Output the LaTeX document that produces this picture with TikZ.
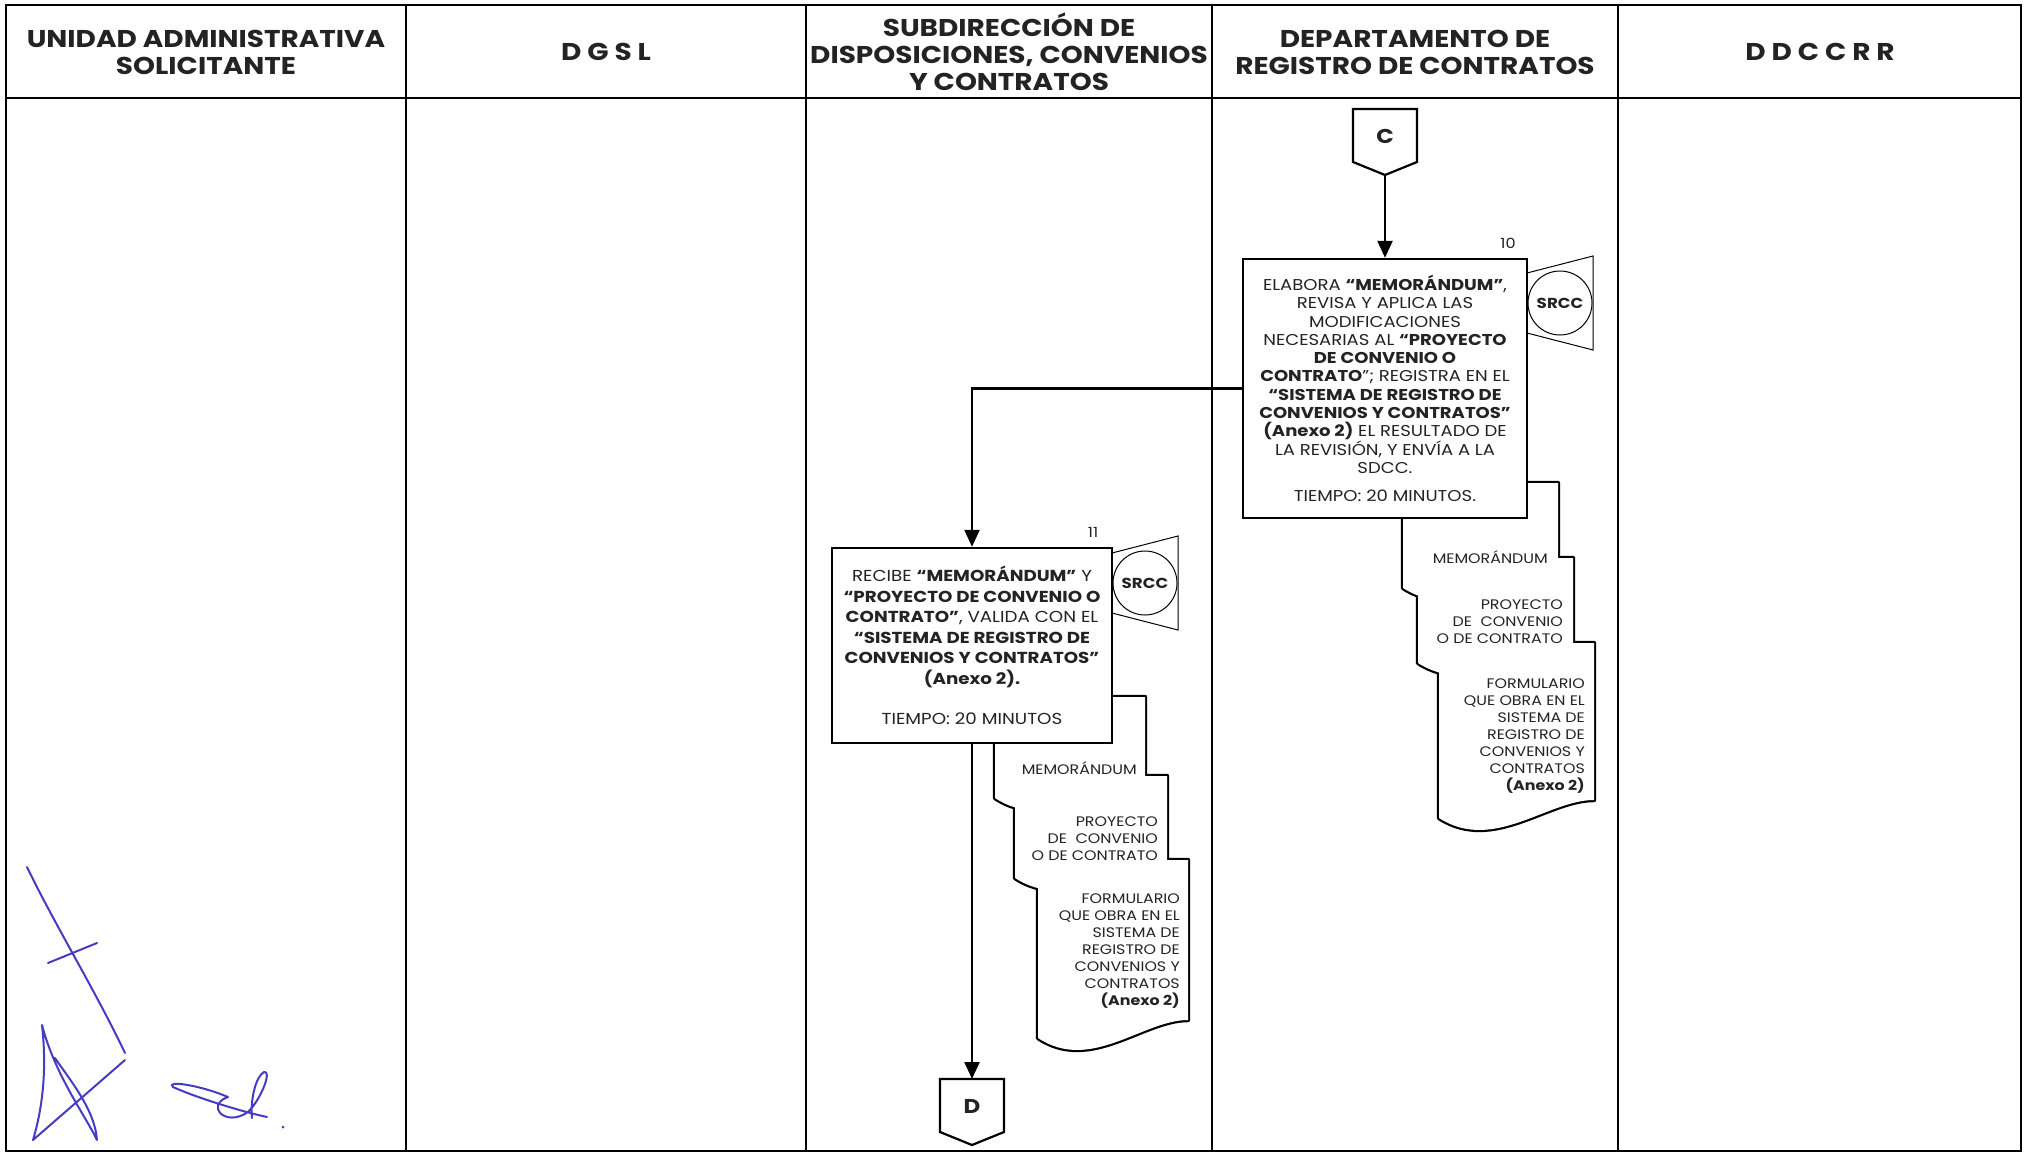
\documentclass[tikz,border=0pt]{standalone}
\usepackage{fontspec}
\setmainfont{Poppins}[FakeStretch=1.15]
\usetikzlibrary{arrows.meta}

\definecolor{inkblue}{RGB}{70,60,195}
\definecolor{txt}{RGB}{35,35,35}

\tikzset{
  hdr/.style={font=\bfseries\fontsize{24.3}{27}\selectfont, align=center, text=txt},
  actbox/.style={rectangle, draw, line width=2.4pt, fill=white, align=center, inner sep=0pt, text=txt},
  doctext/.style={align=right, inner sep=0pt, anchor=east, text=txt, font=\fontsize{13.8}{17}\selectfont},
  flow/.style={line width=2.4pt, -{Triangle[length=17pt,width=15pt]}},
  docline/.style={draw, line width=4.4pt, line join=round},
  docfill/.style={fill=white},
  conline/.style={line width=2.2pt, fill=white, line join=miter},
  srccline/.style={line width=1pt},
  stepnum/.style={font=\fontsize{14}{14}\selectfont, text=txt},
  sig/.style={inkblue, line width=2pt, line cap=round, line join=round},
}

% document shape: style, top-left x, top-left y, width, height
\newcommand{\docpage}[5]{%
  \path[#1] (#2,#3) -- (#2+#4,#3) -- (#2+#4,#3+#5-18)
    .. controls +(-0.3*#4,0) and +(0.35*#4,35) .. (#2,#3+#5) -- cycle;}

% off-page connector: name, centre x, top y, letter
\newcommand{\offpage}[4]{%
  \draw[conline] (#2-32,#3) -- (#2+32,#3) -- (#2+32,#3+53) -- (#2,#3+66) -- (#2-32,#3+53) -- cycle;
  \node[font=\bfseries\fontsize{20}{20}\selectfont, text=txt] (#1) at (#2,#3+27) {#4};
  \coordinate (#1top) at (#2,#3);
  \coordinate (#1tip) at (#2,#3+66);}

% system mark: right edge of box x, centre y
\newcommand{\srccmark}[2]{%
  \draw[srccline] (#1,#2-30) -- (#1+66,#2-47) -- (#1+66,#2+47) -- (#1,#2+30);
  \draw[srccline] (#1+33,#2) circle[radius=32];
  \node[font=\bfseries\fontsize{14.5}{14.5}\selectfont, text=txt] at (#1+33,#2) {SRCC};}

\begin{document}
\begin{tikzpicture}[x=1pt,y=-1pt]
    \useasboundingbox (0,0) rectangle (2024,1154);

    % table
    \draw[line width=2.2pt] (6,5) rectangle (2021,1151);
    \draw[line width=2.2pt] (6,98) -- (2021,98);
    \foreach \xc in {406,806,1212,1618}
        \draw[line width=2.2pt] (\xc,5) -- (\xc,1151);

    \node[hdr] (uas) at (206,52) {UNIDAD ADMINISTRATIVA\\SOLICITANTE};
    \node[hdr] (dgsl) at (606,52) {D G S L};
    \node[hdr] (sdcc) at (1009,52) {SUBDIRECCIÓN DE\\DISPOSICIONES, CONVENIOS\\Y CONTRATOS};
    \node[hdr] (drc) at (1415,52) {DEPARTAMENTO DE\\REGISTRO DE CONTRATOS};
    \node[hdr] (ddccrr) at (1820,52) {D D C C R R};

    % documents of step 10 (outline of the stack only)
    \foreach \st in {docline,docfill} {
        \docpage{\st}{1403}{483}{155}{105}
        \docpage{\st}{1418}{558}{155}{105}
        \docpage{\st}{1439}{643}{155}{175}
    }
    \node[doctext] (memo10) at (1548,557) {MEMORÁNDUM};
    \node[doctext] (proy10) at (1563,622) {PROYECTO\\DE~~CONVENIO\\O DE CONTRATO};
    \node[doctext] (form10) at (1585,736) {FORMULARIO\\QUE OBRA EN EL\\SISTEMA DE\\REGISTRO DE\\CONVENIOS Y\\CONTRATOS\\\textbf{(Anexo 2)}};

    % documents of step 11
    \foreach \st in {docline,docfill} {
        \docpage{\st}{995}{697}{150}{101}
        \docpage{\st}{1015}{776}{152}{102}
        \docpage{\st}{1038}{860}{150}{178}
    }
    \node[doctext] (memo11) at (1137,768) {MEMORÁNDUM};
    \node[doctext] (proy11) at (1158,839) {PROYECTO\\DE~~CONVENIO\\O DE CONTRATO};
    \node[doctext] (form11) at (1180,951) {FORMULARIO\\QUE OBRA EN EL\\SISTEMA DE\\REGISTRO DE\\CONVENIOS Y\\CONTRATOS\\\textbf{(Anexo 2)}};

    % steps
    \node[actbox, minimum width=284pt, minimum height=259pt,
          font=\fontsize{15.7}{18.3}\selectfont] (act10) at (1385,388.5)
        {ELABORA \textbf{“MEMORÁNDUM”},\\REVISA Y APLICA LAS\\MODIFICACIONES\\
         NECESARIAS AL \textbf{“PROYECTO}\\\textbf{DE CONVENIO O}\\
         \textbf{CONTRATO}”; REGISTRA EN EL\\\textbf{“SISTEMA DE REGISTRO DE}\\
         \textbf{CONVENIOS Y CONTRATOS”}\\\textbf{(Anexo 2)} EL RESULTADO DE\\
         LA REVISIÓN, Y ENVÍA A LA\\SDCC.\\[10pt]TIEMPO: 20 MINUTOS.};
    \node[stepnum] (n10) at (1508,243) {10};
    \srccmark{1527}{303}

    \node[actbox, minimum width=280pt, minimum height=195pt,
          font=\fontsize{15.9}{20.5}\selectfont] (act11) at (972,645.5)
        {RECIBE \textbf{“MEMORÁNDUM”} Y\\\textbf{“PROYECTO DE CONVENIO O}\\
         \textbf{CONTRATO”}, VALIDA CON EL\\\textbf{“SISTEMA DE REGISTRO DE}\\
         \textbf{CONVENIOS Y CONTRATOS”}\\\textbf{(Anexo 2).}\\[20pt]TIEMPO: 20 MINUTOS};
    \node[stepnum] (n11) at (1093,532) {11};
    \srccmark{1112}{583}

    % connectors
    \offpage{conC}{1385}{109}{C}
    \offpage{conD}{972}{1079}{D}

    \draw[flow] (conCtip) -- (act10);
    \draw[flow] (act10.west) -| (act11.north);
    \draw[flow] (act11.south) -- (conDtop);

    % signatures
    \draw[sig] (27,867) .. controls (55,925) and (95,990) .. (125,1053);
    \draw[sig] (48,963) -- (97,943);
    \draw[sig] (125,1060) -- (33,1140) .. controls (45,1100) and (46,1060) .. (42,1025)
        .. controls (55,1075) and (85,1115) .. (97,1140) .. controls (95,1110) and (70,1080) .. (55,1058);
    \draw[sig] (267,1117) .. controls (235,1110) and (190,1095) .. (173,1087)
        .. controls (165,1080) and (200,1085) .. (228,1097)
        .. controls (205,1105) and (225,1128) .. (248,1112)
        .. controls (262,1098) and (272,1070) .. (264,1072)
        .. controls (256,1076) and (250,1100) .. (252,1118);
    \fill[inkblue] (283,1127) circle[radius=1.5];
\end{tikzpicture}
\end{document}
